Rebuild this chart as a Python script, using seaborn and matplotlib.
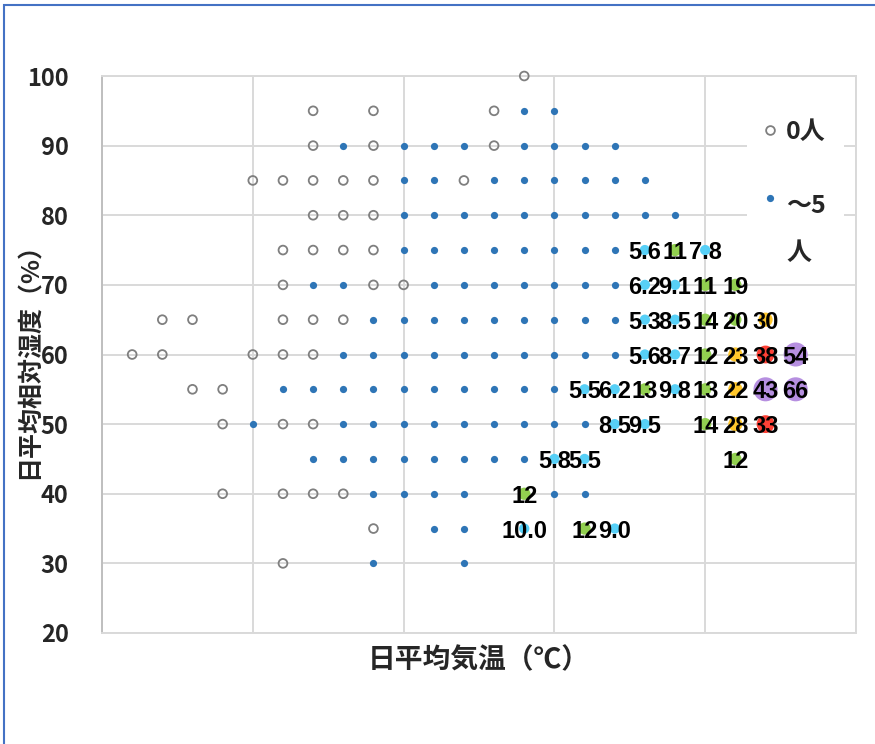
import matplotlib
matplotlib.use("Agg")
import matplotlib.pyplot as plt
from matplotlib.lines import Line2D
from matplotlib.patches import Rectangle
import numpy as np
import pandas as pd
import seaborn as sns

# Days with no cases (0人): daily mean temperature / daily mean relative humidity
zero_temp = [14,
             7, 9, 13,
             7, 9, 13,
             5, 6, 7, 8, 9, 12,
             7, 8, 9,
             6, 7, 8, 9,
             6, 9, 10,
             2, 3, 6, 7, 8,
             1, 2, 5, 6, 7,
             3, 4,
             4, 6, 7,
             4, 6, 7, 8,
             9,
             6]
zero_hum = [100,
            95, 95, 95,
            90, 90, 90,
            85, 85, 85, 85, 85, 85,
            80, 80, 80,
            75, 75, 75, 75,
            70, 70, 70,
            65, 65, 65, 65, 65,
            60, 60, 60, 60, 60,
            55, 55,
            50, 50, 50,
            40, 40, 40, 40,
            35,
            30]

# Days with up to 5 cases (～5人)
low_temp = [14, 15,
            8, 10, 11, 12, 14, 15, 16, 17,
            10, 11, 13, 14, 15, 16, 17, 18,
            10, 11, 12, 13, 14, 15, 16, 17, 18, 19,
            10, 11, 12, 13, 14, 15, 16, 17,
            7, 8, 11, 12, 13, 14, 15, 16, 17,
            9, 10, 11, 12, 13, 14, 15, 16, 17,
            8, 9, 10, 11, 12, 13, 14, 15, 16, 17,
            6, 7, 8, 9, 10, 11, 12, 13, 14, 15,
            5, 8, 9, 10, 11, 12, 13, 14, 15, 16,
            7, 8, 9, 10, 11, 12, 13, 14,
            9, 10, 11, 12, 15, 16,
            11, 12,
            9, 12]
low_hum = [95, 95,
           90, 90, 90, 90, 90, 90, 90, 90,
           85, 85, 85, 85, 85, 85, 85, 85,
           80, 80, 80, 80, 80, 80, 80, 80, 80, 80,
           75, 75, 75, 75, 75, 75, 75, 75,
           70, 70, 70, 70, 70, 70, 70, 70, 70,
           65, 65, 65, 65, 65, 65, 65, 65, 65,
           60, 60, 60, 60, 60, 60, 60, 60, 60, 60,
           55, 55, 55, 55, 55, 55, 55, 55, 55, 55,
           50, 50, 50, 50, 50, 50, 50, 50, 50, 50,
           45, 45, 45, 45, 45, 45, 45, 45,
           40, 40, 40, 40, 40, 40,
           35, 35,
           30, 30]

# Cells with more cases, labelled with their values
case_temp = [18, 19, 20,
             18, 19, 20, 21,
             18, 19, 20, 21, 22,
             18, 19, 20, 21, 22, 23,
             16, 17, 18, 19, 20, 21, 22, 23,
             17, 18, 20, 21, 22,
             15, 16, 21,
             14,
             14, 16, 17]
case_hum = [75, 75, 75,
            70, 70, 70, 70,
            65, 65, 65, 65, 65,
            60, 60, 60, 60, 60, 60,
            55, 55, 55, 55, 55, 55, 55, 55,
            50, 50, 50, 50, 50,
            45, 45, 45,
            40,
            35, 35, 35]
case_value = [5.6, 11, 7.8,
              6.2, 9.1, 11, 19,
              5.3, 8.5, 14, 20, 30,
              5.6, 8.7, 12, 23, 38, 54,
              5.5, 6.2, 13, 9.8, 13, 22, 43, 66,
              8.5, 9.5, 14, 28, 33,
              5.8, 5.5, 12,
              12,
              10.0, 12, 9.0]

band_edges = [5, 10, 20, 30, 40, np.inf]
band_names = ["～10人", "～20人", "～30人", "～40人", "40人～"]
band_colors = dict(zip(band_names, ["#57D0F7", "#92D050", "#FFC72C", "#FF4136", "#B68FE0"]))
band_sizes = dict(zip(band_names, [55, 78, 105, 165, 300]))

ytick_values = [20, 30, 40, 50, 60, 70, 80, 90, 100]
xgrid_values = [0, 5, 10, 15, 20, 25]

GRAY_EDGE = "#7F7F7F"
BLUE = "#2E75B6"
GRID = "#D9D9D9"

sns.set_theme(style="white")
plt.rcParams["font.family"] = ["Noto Sans CJK JP", "DejaVu Sans"]
plt.rcParams["font.weight"] = "bold"

fig = plt.figure(figsize=(8.75, 7.44), dpi=100)
ax = fig.add_axes([102 / 875, 1 - 633 / 744, 754 / 875, 557 / 744])

zero_df = pd.DataFrame({"temp": zero_temp, "hum": zero_hum})
low_df = pd.DataFrame({"temp": low_temp, "hum": low_hum})
case_df = pd.DataFrame({"temp": case_temp, "hum": case_hum, "value": case_value})
case_df["band"] = pd.cut(case_df["value"], bins=band_edges, labels=band_names)

sns.scatterplot(data=zero_df, x="temp", y="hum", ax=ax, marker="o", s=40,
                facecolor="none", edgecolor=GRAY_EDGE, linewidth=1.3, zorder=3,
                clip_on=False)
sns.scatterplot(data=low_df, x="temp", y="hum", ax=ax, marker="o", s=27,
                color=BLUE, linewidth=0, zorder=3, clip_on=False)
sns.scatterplot(data=case_df, x="temp", y="hum", hue="band", palette=band_colors,
                hue_order=band_names, size="band", sizes=band_sizes, size_order=band_names,
                ax=ax, linewidth=0, legend=False, zorder=3, clip_on=False)

label_font = ["Liberation Sans", "DejaVu Sans"]
for t, h, v in zip(case_temp, case_hum, case_value):
    txt = f"{v:.1f}" if v <= 10 else f"{v:.0f}"
    ax.text(t, h, txt, ha="center", va="center_baseline", fontsize=17,
            fontweight="bold", family=label_font, color="black", zorder=5)

ax.set_xlim(0, 25)
ax.set_ylim(20, 100)
ax.set_xticks(xgrid_values)
ax.set_xticklabels([])
ax.set_yticks(ytick_values)
ax.set_yticklabels([str(v) for v in ytick_values], fontsize=17, fontweight="bold")
ax.tick_params(axis="both", length=0)
ax.tick_params(axis="y", pad=24)
ax.grid(True, color=GRID, linewidth=1.4)
ax.set_axisbelow(True)
for side in ["top", "right", "bottom"]:
    ax.spines[side].set_color(GRID)
    ax.spines[side].set_linewidth(1.4)
ax.spines["left"].set_color("#BFBFBF")
ax.spines["left"].set_linewidth(1.4)

ax.set_xlabel("日平均気温（℃）", fontsize=20, fontweight="bold")
ax.set_ylabel("日平均相対湿度（%）", fontsize=18, fontweight="bold")
ax.xaxis.set_label_coords(0.5, -0.024)
ax.yaxis.set_label_coords(-0.08, 0.5)

handles = [
    Line2D([], [], marker="o", linestyle="none", markerfacecolor="none",
           markeredgecolor=GRAY_EDGE, markeredgewidth=1.3, markersize=6.3),
    Line2D([], [], marker="o", linestyle="none", markerfacecolor=BLUE,
           markeredgewidth=0, markersize=5.2),
]
leg = ax.legend(handles, ["0人", "～5\n人"], loc="upper left",
                bbox_to_anchor=((747 - 102) / 754, (633 - 102) / 557),
                frameon=True, fancybox=False, framealpha=1, facecolor="white",
                edgecolor="none", prop={"weight": "bold", "size": 18},
                handlelength=0.4, handletextpad=0.45, borderpad=0.72,
                labelspacing=2.0, borderaxespad=0)
leg.set_zorder(6)
for text in leg.get_texts():
    text.set_linespacing(2.2)
# keep the blue marker level with the first line of its label
second = leg.legend_handles[1]
second.set_ydata(np.asarray(second.get_ydata()) + 23)

# outer frame of the figure
fig.add_artist(Rectangle((3.5 / 875, -1), 2, 2 - 4.5 / 744, transform=fig.transFigure,
                         fill=False, edgecolor="#4472C4", linewidth=1.5))

fig.savefig("out.png", dpi=100, facecolor="white")
